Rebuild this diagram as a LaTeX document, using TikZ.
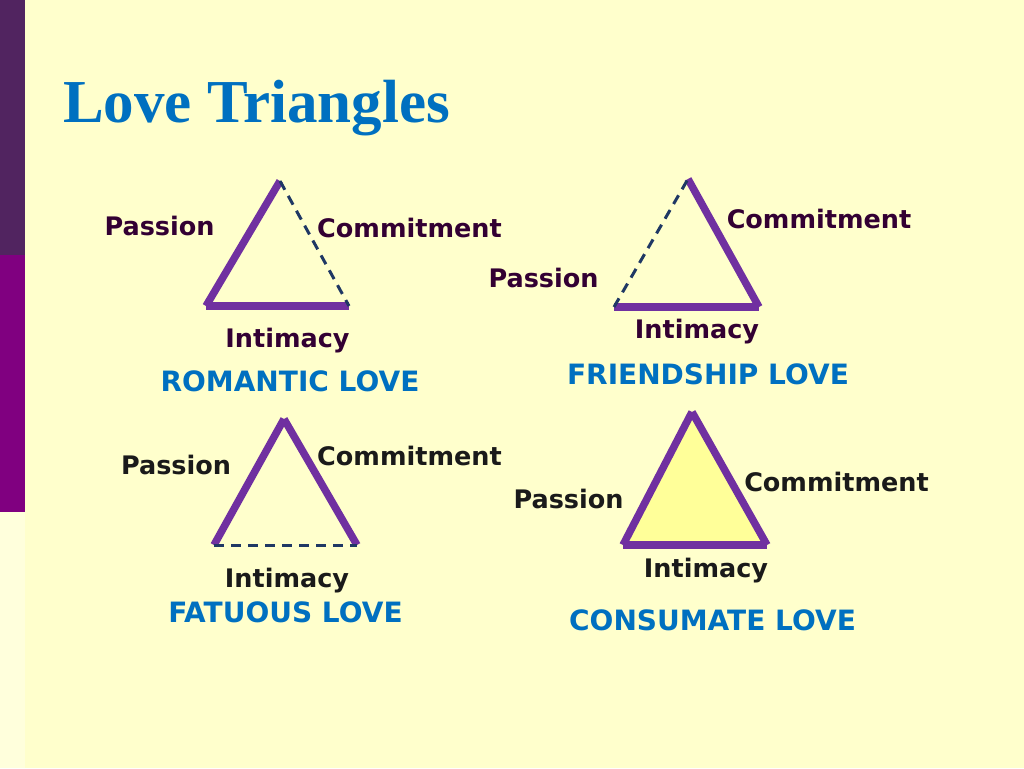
\documentclass[tikz,border=0pt]{standalone}
\usepackage{fontspec}
\setmainfont{DejaVu Sans}
\newfontfamily\titlefont{Liberation Serif}
\usepackage{xcolor}
\usetikzlibrary{positioning}

\definecolor{slidebg}{HTML}{FFFFCC}
\definecolor{stripbg}{HTML}{FFFFDC}
\definecolor{bardark}{HTML}{512460}
\definecolor{barpurple}{HTML}{800080}
\definecolor{tripurple}{HTML}{7030A0}
\definecolor{dashnavy}{HTML}{1F3864}
\definecolor{headblue}{HTML}{0070C0}
\definecolor{darklabel}{HTML}{330033}
\definecolor{blacklabel}{HTML}{1A1A1A}
\definecolor{fullfill}{HTML}{FFFF99}

\begin{document}
\begin{tikzpicture}[
    x=1pt, y=-1pt, % one unit = one pixel of the slide
    every node/.style={inner sep=0pt, anchor=base},
    side/.style={draw=tripurple, line width=7.5pt},
    gap/.style={draw=dashnavy, line width=3pt, dash pattern=on 10pt off 7pt},
    lbl/.style={font=\fontsize{25.5}{30}\selectfont\bfseries, text=darklabel},
    lblb/.style={lbl, text=blacklabel},
    kind/.style={font=\fontsize{28}{32}\selectfont\bfseries, text=headblue}
]
    % 1. Slide background and the bar on the left
    \useasboundingbox (0,0) rectangle (1024,768);
    \fill[slidebg] (0,0) rectangle (1024,768);
    \fill[stripbg] (0,512) rectangle (25,768);
    \fill[bardark] (0,0) rectangle (25,255);
    \fill[barpurple] (0,255) rectangle (25,512);

    \node[anchor=base west, font=\titlefont\bfseries\fontsize{61}{70}\selectfont, text=headblue]
        (title) at (63,122) {Love Triangles};

    % 2. Corners of the four triangles
    \coordinate (rA) at (280,181);
    \coordinate (rL) at (206,306);
    \coordinate (rR) at (349,306);

    \coordinate (fA) at (688,179);
    \coordinate (fL) at (614,307);
    \coordinate (fR) at (759,307);

    \coordinate (tA) at (284,419);
    \coordinate (tL) at (214,545);
    \coordinate (tR) at (357,545);

    \coordinate (cA) at (692,412);
    \coordinate (cL) at (623,545);
    \coordinate (cR) at (767,545);

    % 3. Romantic love: no commitment
    \draw[side] (rL) -- (rA);
    \draw[side] (rL) -- (rR);
    \draw[gap] (rA) -- (rR);
    \node[lbl] (rPass) at (159.5,235) {Passion};
    \node[lbl] (rComm) at (409.5,237) {Commitment};
    \node[lbl] (rInti) at (287.5,347) {Intimacy};
    \node[kind] (rName) at (290,391) {ROMANTIC LOVE};

    % 4. Friendship love: no passion
    \draw[side] (fA) -- (fR);
    \draw[side] (fL) -- (fR);
    \draw[gap] (fL) -- (fA);
    \node[lbl] (fComm) at (819,228) {Commitment};
    \node[lbl] (fPass) at (543.5,287) {Passion};
    \node[lbl] (fInti) at (697,338) {Intimacy};
    \node[kind] (fName) at (708,384) {FRIENDSHIP LOVE};

    % 5. Fatuous love: no intimacy
    \draw[side] (tL) -- (tA);
    \draw[side] (tA) -- (tR);
    \draw[gap] (tL) -- (tR);
    \node[lblb] (tPass) at (176,474) {Passion};
    \node[lblb] (tComm) at (409.5,465) {Commitment};
    \node[lblb] (tInti) at (287,587) {Intimacy};
    \node[kind] (tName) at (285.5,622) {FATUOUS LOVE};

    % 6. Consumate love: all three sides
    \fill[fullfill] (cL) -- (cA) -- (cR) -- cycle;
    \draw[side] (cL) -- (cA);
    \draw[side] (cA) -- (cR);
    \draw[side] (cL) -- (cR);
    \node[lblb] (cPass) at (568.5,508) {Passion};
    \node[lblb] (cComm) at (836.5,491) {Commitment};
    \node[lblb] (cInti) at (706,577) {Intimacy};
    \node[kind] (cName) at (712.5,630) {CONSUMATE LOVE};
\end{tikzpicture}
\end{document}
